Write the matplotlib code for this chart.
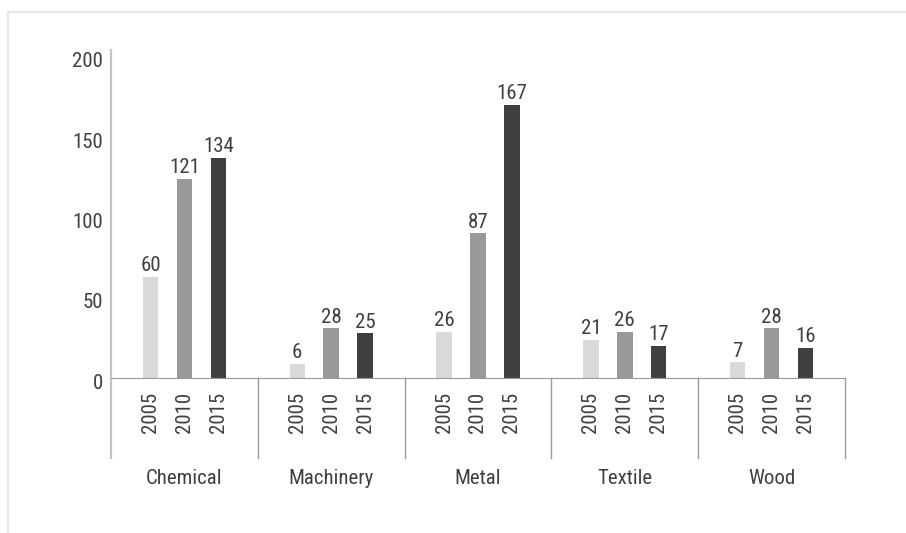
import matplotlib
matplotlib.use("Agg")
import matplotlib.pyplot as plt
import matplotlib.transforms as mtransforms
from matplotlib.lines import Line2D
from matplotlib import font_manager as fm

#===========================================================================================
# Datos
#===========================================================================================
categorias = ["Chemical", "Machinery", "Metal", "Textile", "Wood"]
anios = ["2005", "2010", "2015"]
v2005 = [60, 6, 26, 21, 7]
v2010 = [121, 28, 87, 26, 28]
v2015 = [134, 25, 167, 17, 16]
yticks = [0, 50, 100, 150, 200]

series = [v2005, v2010, v2015]
colores = ["#d9d9d9", "#999999", "#404040"]
offsets = [-0.231, 0.0, 0.231]
texto = "#404040"

# Fuente estrecha (tipo Arial Narrow) si existe
disponibles = set(f.name for f in fm.fontManager.ttflist)
fuente = "DejaVu Sans"
for cand in ["Liberation Sans Narrow", "Arial Narrow", "Roboto Condensed", "PT Sans Narrow",
             "Archivo Narrow", "Asap Condensed"]:
    if cand in disponibles:
        fuente = cand
        break
plt.rcParams["font.family"] = [fuente, "DejaVu Sans"]
tam = 15

# el eje horizontal queda un poco por debajo del cero (como en el original)
y_min, y_max = -2.86, 201

fig = plt.figure(figsize=(9.06, 5.33), dpi=100)
ax = fig.add_axes([111 / 906, 1 - 378 / 533, (845 - 111) / 906, 328 / 533])

#===========================================================================================
# Barras
#===========================================================================================
pos_ticks = []
lab_ticks = []
for s, vals in enumerate(series):
    xs = [i + offsets[s] for i in range(len(categorias))]
    ax.bar(xs, [v - y_min for v in vals], bottom=y_min, width=0.105, color=colores[s], zorder=2)
    for x, v in zip(xs, vals):
        ax.annotate(str(v), (x, v), xytext=(0, 4), textcoords="offset points",
                    ha="center", va="baseline", fontsize=tam, color=texto)
    pos_ticks += xs
    lab_ticks += [anios[s]] * len(xs)

ax.set_xlim(-0.5, len(categorias) - 0.5)
ax.set_ylim(y_min, y_max)
ax.set_yticks(yticks)
ax.set_xticks(pos_ticks)
ax.set_xticklabels(lab_ticks, rotation=90)
ax.tick_params(axis="x", length=0, pad=10, labelsize=tam, labelcolor=texto)
ax.tick_params(axis="y", length=0, pad=6, labelsize=tam, labelcolor=texto)

for lado in ["top", "right"]:
    ax.spines[lado].set_visible(False)
ax.spines["left"].set_color("#c4c4c4")
ax.spines["left"].set_linewidth(1.6)
ax.spines["bottom"].set_color("#999999")

# las etiquetas del eje y aparecen algo mas abajo en el original
bajar = mtransforms.ScaledTranslation(0, -8 / 100, fig.dpi_scale_trans)
for t in ax.yaxis.get_major_ticks():
    t.label1.set_transform(t.label1.get_transform() + bajar)

#===========================================================================================
# Separadores y nombres de categoria
#===========================================================================================
trans = ax.get_xaxis_transform()
ax.plot([-0.5, -0.5], [0, -0.244], transform=trans, color="#c4c4c4", lw=1.6, clip_on=False)
for i in range(len(categorias)):
    ax.plot([i + 0.5, i + 0.5], [0, -0.244], transform=trans, color="#999999", lw=1, clip_on=False)
    ax.text(i, -0.305, categorias[i], transform=trans, ha="center", va="center",
            fontsize=tam, color=texto)

# Borde de la figura
fig.add_artist(Line2D([8 / 906, 1], [1 - 12 / 533, 1 - 12 / 533], transform=fig.transFigure, color="#e6e6e6", lw=1.5))
fig.add_artist(Line2D([8 / 906, 8 / 906], [0, 1 - 12 / 533], transform=fig.transFigure, color="#e6e6e6", lw=1.5))

plt.savefig("out.png", dpi=100)
